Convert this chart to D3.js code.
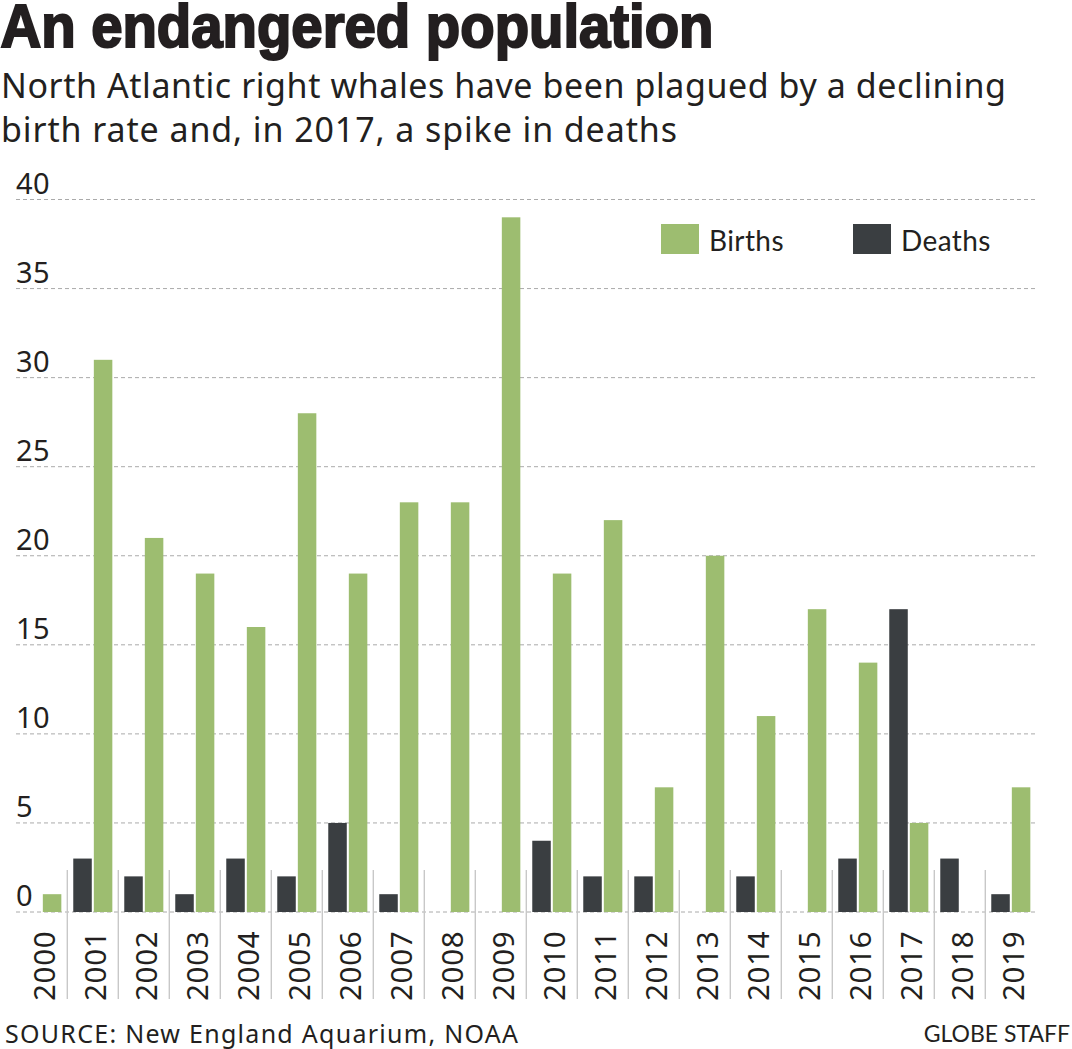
<!DOCTYPE html>
<html><head><meta charset="utf-8">
<script src="https://cdn.jsdelivr.net/npm/d3@7"></script>
<style>html,body{margin:0;padding:0;background:#fff}svg{display:block}text{fill:#231f20}</style>
</head><body><svg id="c" width="1072" height="1049"></svg>
<script>
const years=["2000","2001","2002","2003","2004","2005","2006","2007","2008","2009","2010","2011","2012","2013","2014","2015","2016","2017","2018","2019"];
const births=[1,31,21,19,16,28,19,23,23,39,19,22,7,20,11,17,14,5,0,7];
const deaths=[0,3,2,1,3,2,5,1,0,0,4,2,2,0,2,0,3,17,3,1];
const seriesNames=["Deaths","Births"];
const yTicks=[0,5,10,15,20,25,30,35,40];
const colors={Births:"#9dbd70",Deaths:"#3a3e41"};
const titleText="An endangered population";
const subtitleLines=["North Atlantic right whales have been plagued by a declining","birth rate and, in 2017, a spike in deaths"];
const subtitleWidths=[1005,676];
const sourceText="SOURCE: New England Aquarium, NOAA";
const creditText="GLOBE STAFF";
const font="Lato, sans-serif";
const font2="'Noto Sans', sans-serif";
const svg=d3.select("#c");
const y=d3.scaleLinear().domain([0,40]).range([912,199.5]);
const x=d3.scaleBand().domain(years).range([16.3,1036.3]);
const x1=d3.scaleBand().domain(seriesNames).range([0,x.step()]).paddingInner(0.1).paddingOuter(0.29);
svg.append("text").attr("x",0.5).attr("y",47).attr("font-family","'Liberation Sans Narrow',sans-serif").attr("font-weight",700)
 .attr("font-size",62).attr("stroke","#231f20").attr("stroke-width",2.2).attr("stroke-linejoin","miter").attr("textLength",713).attr("lengthAdjust","spacingAndGlyphs").text(titleText);
svg.selectAll(".sub").data(subtitleLines).join("text").attr("class","sub").attr("x",1).attr("y",(d,i)=>98+i*44)
 .attr("font-family",font2).attr("font-size",34).attr("textLength",(d,i)=>subtitleWidths[i]).attr("lengthAdjust","spacing").text(d=>d);
svg.append("g").selectAll("line").data(yTicks).join("line").attr("x1",16).attr("x2",1038).attr("y1",d=>y(d)).attr("y2",d=>y(d))
 .attr("stroke","#aaa").attr("stroke-width",1).attr("stroke-dasharray","4 3");
svg.append("g").selectAll("text").data(yTicks).join("text").attr("x",16).attr("y",d=>y(d)-6).attr("font-family",font2).attr("font-size",29).attr("letter-spacing",0.5).text(d=>d);
svg.append("g").selectAll("line").data(years.slice(1)).join("line").attr("x1",d=>x(d)).attr("x2",d=>x(d)).attr("y1",870).attr("y2",999).attr("stroke","#c8c8c8").attr("stroke-width",1.4);
const g=svg.append("g");
seriesNames.forEach(s=>{const vals=s==="Births"?births:deaths;
 g.selectAll("rect."+s).data(vals).join("rect").attr("class",s).attr("x",(d,i)=>x(years[i])+x1(s)).attr("width",x1.bandwidth()).attr("y",d=>y(d)).attr("height",d=>y(0)-y(d)).attr("fill",colors[s]);});
svg.append("g").selectAll("text").data(years).join("text").attr("transform",d=>`translate(${x(d)+x.bandwidth()/2+13.2},1001) rotate(-90)`)
 .attr("font-family",font2).attr("font-size",29.5).attr("letter-spacing",0.7).text(d=>d);
[["Births",661,710],["Deaths",853,902]].forEach(([s,rx,tx])=>{
 svg.append("rect").attr("x",rx).attr("y",224).attr("width",38).attr("height",30).attr("fill",colors[s]);
 svg.append("text").attr("x",tx-1).attr("y",251).attr("font-family",font).attr("font-size",28).attr("letter-spacing",0.4).text(s);
});
svg.append("text").attr("x",5).attr("y",1043).attr("font-family",font2).attr("font-size",25).attr("textLength",513).text(sourceText);
svg.append("text").attr("x",1070).attr("y",1042).attr("text-anchor","end").attr("font-family",font).attr("font-size",23).text(creditText);
</script></body></html>
